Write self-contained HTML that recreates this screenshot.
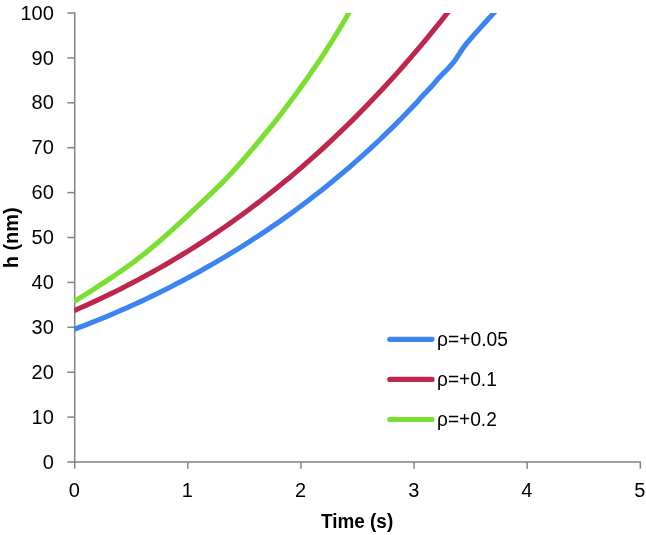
<!DOCTYPE html><html><head><meta charset="utf-8"><style>html,body{margin:0;padding:0;background:#fff}svg{display:block;will-change:transform}text{font-family:"Liberation Sans",sans-serif;fill:#000}</style></head><body>
<svg width="646" height="535" viewBox="0 0 646 535">
<rect width="646" height="535" fill="#fff"/>
<defs><clipPath id="c"><rect x="74.0" y="13.0" width="570" height="449.6"/></clipPath></defs>
<g stroke="#828282" stroke-width="1.5" fill="none">
<path d="M74.7,12.3 V468.7"/>
<path d="M67.4,462.0 H641.0"/>
<path d="M67.4,417.10 H74.7"/>
<path d="M67.4,372.20 H74.7"/>
<path d="M67.4,327.30 H74.7"/>
<path d="M67.4,282.40 H74.7"/>
<path d="M67.4,237.50 H74.7"/>
<path d="M67.4,192.60 H74.7"/>
<path d="M67.4,147.70 H74.7"/>
<path d="M67.4,102.80 H74.7"/>
<path d="M67.4,57.90 H74.7"/>
<path d="M67.4,13.00 H74.7"/>
<path d="M187.82,462.0 V468.7"/>
<path d="M300.94,462.0 V468.7"/>
<path d="M414.06,462.0 V468.7"/>
<path d="M527.18,462.0 V468.7"/>
<path d="M640.30,462.0 V468.7"/>
</g>
<g clip-path="url(#c)" fill="none" stroke-width="5.1" stroke-linejoin="round">
<path d="M74.0,329.3 L80.0,327.1 L86.0,324.8 L92.0,322.4 L98.0,320.0 L104.0,317.6 L110.0,315.1 L116.0,312.5 L122.0,309.9 L128.0,307.3 L134.0,304.5 L140.0,301.8 L146.0,299.0 L152.0,296.1 L158.0,293.2 L164.0,290.2 L170.0,287.2 L176.0,284.1 L182.0,280.9 L188.0,277.8 L194.0,274.5 L200.0,271.2 L206.0,267.8 L212.0,264.4 L218.0,260.9 L224.0,257.4 L230.0,253.8 L236.0,250.1 L242.0,246.4 L248.0,242.6 L254.0,238.7 L260.0,234.8 L266.0,230.8 L272.0,226.7 L278.0,222.6 L284.0,218.4 L290.0,214.1 L296.0,209.7 L302.0,205.3 L308.0,200.7 L314.0,196.1 L320.0,191.4 L326.0,186.7 L332.0,181.8 L338.0,176.8 L344.0,171.8 L350.0,166.7 L356.0,161.4 L362.0,156.1 L368.0,150.7 L374.0,145.1 L380.0,139.5 L386.0,133.7 L392.0,127.9 L398.0,121.9 L404.0,115.8 L410.0,109.6 L416.0,103.3 L422.0,96.4 L423.5,94.9 L425.0,93.3 L426.6,91.7 L428.1,90.1 L429.6,88.5 L431.2,86.8 L432.7,85.1 L434.2,83.4 L435.7,81.6 L437.2,79.8 L438.8,78.1 L440.3,76.4 L441.9,74.7 L443.5,73.1 L445.0,71.6 L446.4,70.2 L447.6,69.0 L448.7,67.8 L449.8,66.7 L450.8,65.5 L451.9,64.3 L452.9,63.0 L453.9,61.8 L454.9,60.5 L455.8,59.2 L456.7,57.9 L457.5,56.5 L458.4,55.2 L459.3,53.8 L460.2,52.4 L461.1,51.0 L462.0,49.7 L462.8,48.4 L463.7,47.2 L464.7,45.9 L465.7,44.6 L466.8,43.2 L468.0,41.8 L469.1,40.5 L470.3,39.1 L471.4,37.8 L472.5,36.5 L473.7,35.2 L474.9,33.8 L476.1,32.4 L477.5,30.9 L479.0,29.3 L480.7,27.4 L482.6,25.3 L484.5,23.2 L486.5,21.0 L488.5,18.8 L490.4,16.8 L492.1,14.8 L493.7,13.1 L495.0,11.6 L496.1,10.4 L496.8,9.6 L497.2,9.2" stroke="#3B84F1"/>
<path d="M74.0,310.7 L80.0,308.0 L86.0,305.4 L92.0,302.7 L98.0,299.9 L104.0,297.0 L110.0,294.1 L116.0,291.2 L122.0,288.2 L128.0,285.1 L134.0,282.0 L140.0,278.8 L146.0,275.6 L152.0,272.3 L158.0,268.9 L164.0,265.5 L170.0,262.0 L176.0,258.4 L182.0,254.8 L188.0,251.1 L194.0,247.3 L200.0,243.5 L206.0,239.6 L212.0,235.6 L218.0,231.6 L224.0,227.5 L230.0,223.3 L236.0,219.0 L242.0,214.7 L248.0,210.3 L254.0,205.8 L260.0,201.2 L266.0,196.6 L272.0,191.8 L278.0,187.0 L284.0,182.1 L290.0,177.2 L296.0,172.1 L302.0,167.0 L308.0,161.7 L314.0,156.4 L320.0,151.0 L326.0,145.5 L332.0,139.9 L338.0,134.2 L344.0,128.4 L350.0,122.6 L356.0,116.6 L362.0,110.5 L368.0,104.4 L374.0,98.1 L380.0,91.8 L386.0,85.3 L392.0,78.7 L398.0,72.1 L404.0,65.3 L410.0,58.4 L416.0,51.4 L422.0,44.3 L428.0,37.1 L434.0,29.7 L440.0,22.3 L446.0,14.7 L452.0,7.0 L456.0,1.9" stroke="#BE274C"/>
<path d="M74.0,301.7 L80.0,297.9 L86.0,294.1 L92.0,290.3 L98.0,286.4 L104.0,282.5 L110.0,278.6 L116.0,274.5 L122.0,270.3 L128.0,266.1 L134.0,261.7 L140.0,257.1 L146.0,252.4 L152.0,247.5 L158.0,242.5 L164.0,237.2 L170.0,231.9 L176.0,226.4 L182.0,220.9 L188.0,215.3 L194.0,209.7 L200.0,204.1 L206.0,198.4 L212.0,192.7 L218.0,186.9 L224.0,180.9 L230.0,174.6 L236.0,168.0 L242.0,161.2 L248.0,154.2 L254.0,147.1 L260.0,140.0 L266.0,132.7 L272.0,125.3 L278.0,117.8 L284.0,110.0 L290.0,102.0 L296.0,93.9 L302.0,85.6 L308.0,77.2 L314.0,68.5 L320.0,59.7 L326.0,50.5 L332.0,41.1 L338.0,31.4 L344.0,21.3 L350.0,10.8 L352.0,7.2" stroke="#7ADF31"/>
</g>
<text x="53.8" y="468.6" font-size="20" text-anchor="end">0</text>
<text x="53.8" y="423.7" font-size="20" text-anchor="end">10</text>
<text x="53.8" y="378.8" font-size="20" text-anchor="end">20</text>
<text x="53.8" y="333.9" font-size="20" text-anchor="end">30</text>
<text x="53.8" y="289.0" font-size="20" text-anchor="end">40</text>
<text x="53.8" y="244.1" font-size="20" text-anchor="end">50</text>
<text x="53.8" y="199.2" font-size="20" text-anchor="end">60</text>
<text x="53.8" y="154.3" font-size="20" text-anchor="end">70</text>
<text x="53.8" y="109.4" font-size="20" text-anchor="end">80</text>
<text x="53.8" y="64.5" font-size="20" text-anchor="end">90</text>
<text x="53.8" y="19.6" font-size="20" text-anchor="end">100</text>
<text x="74.3" y="497.2" font-size="20" text-anchor="middle">0</text>
<text x="187.4" y="497.2" font-size="20" text-anchor="middle">1</text>
<text x="300.5" y="497.2" font-size="20" text-anchor="middle">2</text>
<text x="413.7" y="497.2" font-size="20" text-anchor="middle">3</text>
<text x="526.8" y="497.2" font-size="20" text-anchor="middle">4</text>
<text x="639.9" y="497.2" font-size="20" text-anchor="middle">5</text>
<text x="321.0" y="528" font-size="19.6" font-weight="bold" textLength="72.2" lengthAdjust="spacingAndGlyphs">Time (s)</text>
<text transform="translate(17.6,268.2) rotate(-90)" font-size="20.3" font-weight="bold" textLength="60.8" lengthAdjust="spacingAndGlyphs">h (nm)</text>
<path d="M389.8,339.3 H432.0" stroke="#3B84F1" stroke-width="5.2" stroke-linecap="round"/>
<text x="437.0" y="346.0" font-size="20" textLength="71.0" lengthAdjust="spacingAndGlyphs">ρ=+0.05</text>
<path d="M389.8,379.4 H432.0" stroke="#BE274C" stroke-width="5.2" stroke-linecap="round"/>
<text x="437.0" y="386.1" font-size="20" textLength="59.8" lengthAdjust="spacingAndGlyphs">ρ=+0.1</text>
<path d="M389.8,419.5 H432.0" stroke="#7ADF31" stroke-width="5.2" stroke-linecap="round"/>
<text x="437.0" y="426.2" font-size="20" textLength="59.8" lengthAdjust="spacingAndGlyphs">ρ=+0.2</text>
</svg></body></html>
